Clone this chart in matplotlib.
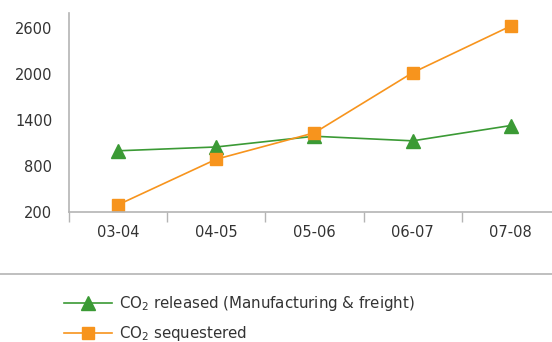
import matplotlib.pyplot as plt
from matplotlib.lines import Line2D
import numpy as np

years = ['03-04', '04-05', '05-06', '06-07', '07-08']
released = [1000, 1050, 1190, 1130, 1330]
sequestered = [295, 890, 1235, 2020, 2630]
yticks = [200, 800, 1400, 2000, 2600]

green = '#3b9a35'
orange = '#f7941d'
axis_grey = '#b4b4b4'
text_col = '#333333'

plt.rcParams['font.family'] = ['DejaVu Sans']

fig = plt.figure(figsize=(5.52, 3.42), dpi=100)
ax = fig.add_axes([0.125, 0.38, 0.875, 0.582])

x = np.arange(len(years))
ax.plot(x, released, color=green, lw=1.2, marker='^', ms=9.5, mec=green,
        label='CO$_2$ released (Manufacturing & freight)')
ax.plot(x, sequestered, color=orange, lw=1.2, marker='s', ms=9, mec=orange,
        label='CO$_2$ sequestered')

ax.set_xlim(-0.5, 4.42)
ax.set_ylim(200, 2800)
ax.set_yticks(yticks)
ax.set_xticks(x)
ax.set_xticklabels(years)
ax.set_xticks(np.arange(-0.5, 4.5, 1), minor=True)
ax.tick_params(axis='x', which='major', length=0, pad=9, labelsize=10.5, colors=text_col)
ax.tick_params(axis='x', which='minor', length=7, width=1, color=axis_grey)
ax.tick_params(axis='y', length=0, pad=12, labelsize=10.5, colors=text_col)

for side in ['top', 'right']:
    ax.spines[side].set_visible(False)
for side in ['left', 'bottom']:
    ax.spines[side].set_color(axis_grey)
    ax.spines[side].set_linewidth(1.2)

# separator above the legend
fig.add_artist(Line2D([0, 1], [1 - 274 / 342] * 2, color=axis_grey, lw=1.2))

fig.legend(loc='upper left', bbox_to_anchor=(0.105, 0.158), frameon=False,
           fontsize=10.8, handlelength=3.2, handletextpad=0.5,
           labelspacing=0.72, borderaxespad=0, labelcolor=text_col)

fig.savefig('out.png', dpi=100)
